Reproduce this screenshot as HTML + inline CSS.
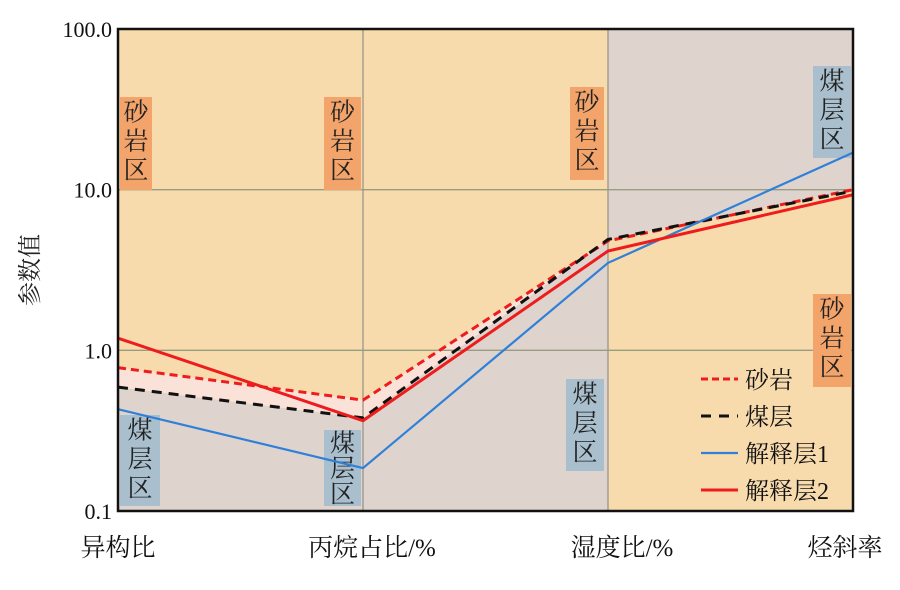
<!DOCTYPE html>
<html><head><meta charset="utf-8"><style>
html,body{margin:0;padding:0;background:#fff;}
svg{display:block;font-family:"Liberation Serif","Noto Serif CJK SC",serif;}
</style></head><body>
<svg id="chart" width="900" height="590" viewBox="0 0 900 590">
<g id="bg"></g>
<g id="grid"></g>
<g id="boxes"></g>
<g id="series"></g>
<rect x="118" y="29" width="735" height="482" fill="none" stroke="#111" stroke-width="2.5"/>
<g id="yticks"></g>
<g id="xticks"></g>
<text x="38" y="270" font-size="24" fill="#222" text-anchor="middle" transform="rotate(-90 38 270)">参数值</text>
<g id="legend"></g>
</svg>
<script>
const categories = ["异构比","丙烷占比/%","湿度比/%","烃斜率"];
const yTickValues = [0.1, 1, 10, 100];
const yTickLabels = ["0.1","1.0","10.0","100.0"];
const sandstone = [0.78, 0.49, 4.8, 10];
const coal = [0.59, 0.38, 4.9, 9.8];
const layer1 = [0.43, 0.185, 3.5, 17];
const layer2 = [1.19, 0.365, 4.15, 9.3];
const seriesNames = ["砂岩","煤层","解释层1","解释层2"];

const NS="http://www.w3.org/2000/svg";
const L=118,R=853,T=29,B=511;
function xs(i){return L+(R-L)*i/(categories.length-1);}
function ys(v){return B-(Math.log10(v)+1)/3*(B-T);}
function mk(tag,attrs,parent){const e=document.createElementNS(NS,tag);for(const k in attrs)e.setAttribute(k,attrs[k]);parent.appendChild(e);return e;}
const bg=document.getElementById('bg');
let r=mk('rect',{x:L,y:T,width:R-L,height:B-T,fill:'#f8dbad'},bg);


// gray below coal for first three axes
let pts=[];for(let i=0;i<3;i++)pts.push(xs(i)+','+ys(coal[i]));
pts.push(xs(2)+','+B);pts.push(L+','+B);
let p=mk('polygon',{points:pts.join(' '),fill:'#dfd3cd'},bg);


// pink between sandstone and coal
pts=[];for(let i=0;i<3;i++)pts.push(xs(i)+','+ys(sandstone[i]));
for(let i=2;i>=0;i--)pts.push(xs(i)+','+ys(coal[i]));
p=mk('polygon',{points:pts.join(' '),fill:'#fbe2d9'},bg);


// gray above line in last segment
p=mk('polygon',{points:[xs(2)+','+T,R+','+T,xs(3)+','+ys(coal[3]),xs(2)+','+ys(coal[2])].join(' '),fill:'#dfd3cd'},bg);



const grid=document.getElementById('grid');
yTickValues.slice(1,3).forEach(v=>{const l=mk('line',{x1:L,x2:R,y1:ys(v),y2:ys(v),stroke:'#9a9c82','stroke-width':1.3},grid);

});
for(let i=1;i<categories.length-1;i++){const l=mk('line',{x1:xs(i),x2:xs(i),y1:T,y2:B,stroke:'#95988a','stroke-width':1.3},grid);

}

const boxes=document.getElementById('boxes');
const zoneBoxes=[[120,97,32,93,'#f3a46a','砂岩区'],[324,97,37,93,'#f3a46a','砂岩区'],[570,87,34,93,'#f3a46a','砂岩区'],[813,294,38,93,'#f3a46a','砂岩区'],
[120,415,40,91,'#a9bfcd','煤层区'],[324,430,37,76,'#a9bfcd','煤层区'],[566,379,38,92,'#a9bfcd','煤层区'],[813,66,38,92,'#a9bfcd','煤层区']];
zoneBoxes.forEach(b=>{const g=mk('g',{},boxes);


mk('rect',{x:b[0],y:b[1],width:b[2],height:b[3],fill:b[4]},g);
const n=b[5].length;const step=Math.min(29,b[3]/n);
for(let k=0;k<n;k++){const t=mk('text',{x:b[0]+b[2]/2,y:b[1]+step*(k+0.5)+9,'font-size':25,'text-anchor':'middle',fill:'#222'},g);t.textContent=b[5][k];}});

const series=[[sandstone,'#ee1c1c','8,5',3],[coal,'#111','10,7',3],[layer1,'#2f80d8','',2.2],[layer2,'#ee1c1c','',3]];
const sg=document.getElementById('series');
series.forEach((s,j)=>{const pl=mk('polyline',{points:s[0].map((v,i)=>xs(i)+','+ys(v)).join(' '),fill:'none',stroke:s[1],'stroke-width':s[3]},sg);
if(s[2])pl.setAttribute('stroke-dasharray',s[2]);

});

const yt=document.getElementById('yticks');
yTickValues.forEach((v,i)=>{const t=mk('text',{x:112,y:ys(v)+8,'font-size':22,'text-anchor':'end',fill:'#111'},yt);t.textContent=yTickLabels[i];

});
const xt=document.getElementById('xticks');
const xlabX=[118,372,622,845];
categories.forEach((c,i)=>{const t=mk('text',{x:xlabX[i],y:556,'font-size':25,'text-anchor':'middle',fill:'#111'},xt);t.textContent=c;

});

const lg=document.getElementById('legend');
series.forEach((s,j)=>{const y=379+j*37;const g=mk('g',{},lg);


const l=mk('line',{x1:701,x2:738,y1:y,y2:y,stroke:s[1],'stroke-width':s[3]},g);
if(s[2])l.setAttribute('stroke-dasharray',j==0?'7,4':'10,8');
const t=mk('text',{x:745,y:y+9,'font-size':24,fill:'#111'},g);t.textContent=seriesNames[j];});
</script>
</body></html>
